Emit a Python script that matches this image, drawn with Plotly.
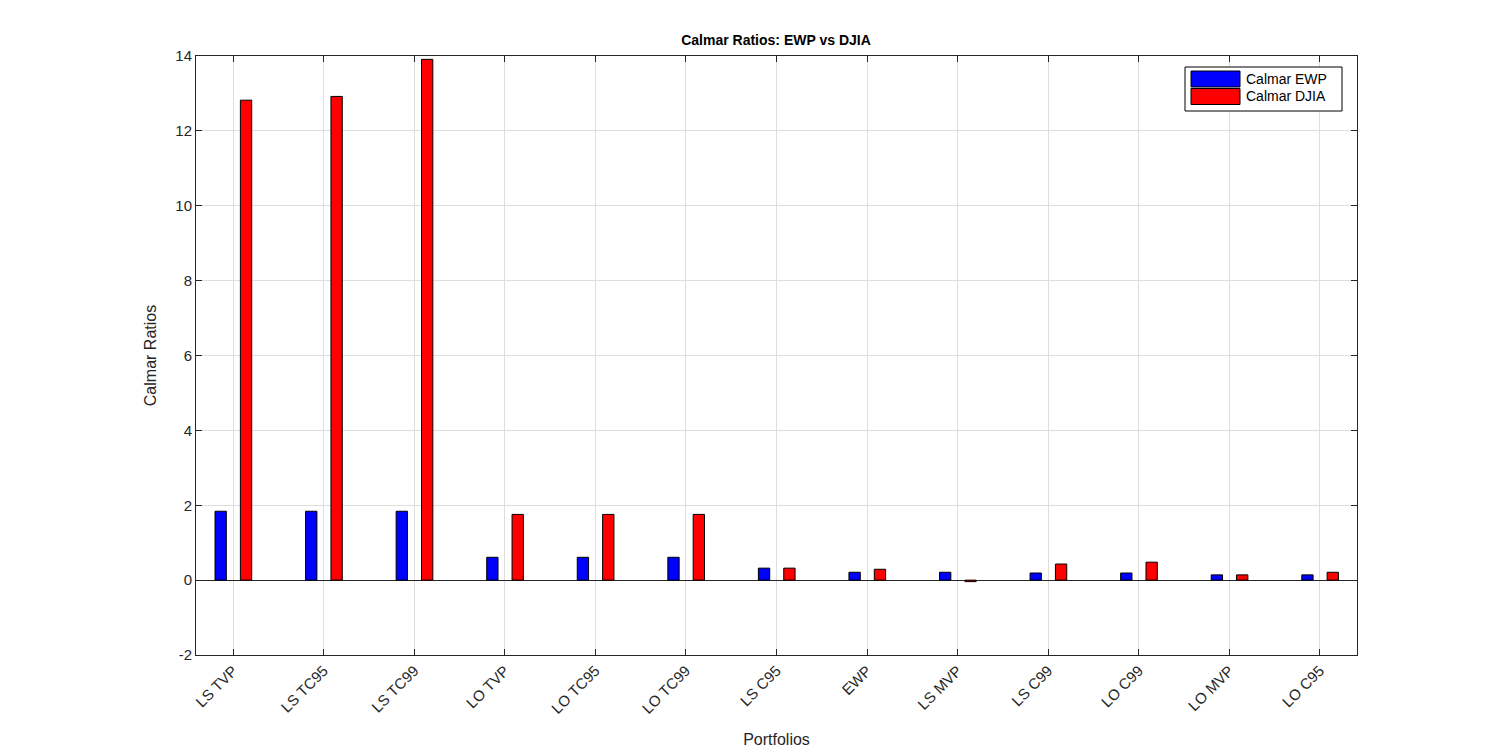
import plotly.graph_objects as go

categories = ["LS TVP", "LS TC95", "LS TC99", "LO TVP", "LO TC95", "LO TC99",
              "LS C95", "EWP", "LS MVP", "LS C99", "LO C99", "LO MVP", "LO C95"]
calmar_ewp = [1.84, 1.84, 1.84, 0.61, 0.61, 0.61, 0.32, 0.21, 0.21, 0.19, 0.19, 0.14, 0.14]
calmar_djia = [12.82, 12.92, 13.91, 1.755, 1.755, 1.755, 0.32, 0.29, -0.04, 0.43, 0.48, 0.14, 0.21]
series_names = ["Calmar EWP", "Calmar DJIA"]
series_colors = ["#0000FF", "#FF0000"]
yticks = [-2, 0, 2, 4, 6, 8, 10, 12, 14]

xpos = list(range(len(categories)))
font_family = "Liberation Sans, Arial, sans-serif"

# page body has an 8px margin; figure sized so it ends at the window edge
OFF = 8
W, H = 1500 - OFF, 750 - OFF
# Plot area in screen pixels: x 196..1357, y 56..655
L, R, T, B = 196, 1357, 56, 655

def px(x):
    return (x - L) / (R - L)

def py(y):
    return (B - y) / (B - T)

fig = go.Figure()
fig.add_trace(go.Bar(x=xpos, y=calmar_ewp, name=series_names[0], width=0.125, offset=-0.2,
                     marker=dict(color=series_colors[0], line=dict(color="black", width=1)),
                     showlegend=False))
fig.add_trace(go.Bar(x=xpos, y=calmar_djia, name=series_names[1], width=0.125, offset=0.08,
                     marker=dict(color=series_colors[1], line=dict(color="black", width=1)),
                     showlegend=False))

shapes = [dict(type="rect", xref="paper", yref="paper", x0=px(1185), x1=px(1342),
               y0=py(111), y1=py(67), line=dict(color="black", width=1), fillcolor="white",
               layer="above")]
annotations = []
for i, (nm, col) in enumerate(zip(series_names, series_colors)):
    top = 71 + i * 17.5
    shapes.append(dict(type="rect", xref="paper", yref="paper", x0=px(1191), x1=px(1240),
                       y0=py(top + 16), y1=py(top), line=dict(color="black", width=1),
                       fillcolor=col, layer="above"))
    annotations.append(dict(text=nm, xref="paper", yref="paper", x=px(1244), y=py(top + 8),
                            xanchor="left", yanchor="middle", showarrow=False,
                            font=dict(size=14, color="black", family=font_family)))

fig.update_layout(
    width=W, height=H,
    paper_bgcolor="white", plot_bgcolor="white",
    margin=dict(l=L - OFF, r=1500 - R, t=T - OFF, b=750 - B, autoexpand=False),
    font=dict(family=font_family, size=14, color="#262626"),
    title=dict(text="<b>Calmar Ratios: EWP vs DJIA</b>", x=(776 - OFF) / W, xanchor="center",
               y=1 - (40 - OFF) / H, yanchor="middle", font=dict(size=14, color="black")),
    barmode="overlay",
    showlegend=False,
    shapes=shapes,
    annotations=annotations,
)
fig.update_xaxes(
    range=[-0.41, 12.41], tickmode="array", tickvals=xpos, ticktext=categories,
    tickangle=-45, showgrid=True, gridcolor="#DEDEDE", gridwidth=1,
    showline=True, linecolor="#262626", linewidth=1, mirror="ticks",
    ticks="inside", ticklen=6, tickcolor="#262626", zeroline=False, automargin=False,
    tickfont=dict(size=15, color="#262626"),
    title=dict(text="Portfolios", font=dict(size=16, color="#262626"), standoff=18),
)
fig.update_yaxes(
    range=[-2, 14], tickmode="array", tickvals=yticks, ticktext=[str(v) for v in yticks],
    showgrid=True, gridcolor="#DEDEDE", gridwidth=1,
    showline=True, linecolor="#262626", linewidth=1, mirror="ticks",
    ticks="inside", ticklen=6, tickcolor="#262626", automargin=False,
    zeroline=True, zerolinecolor="#262626", zerolinewidth=1,
    tickfont=dict(size=15, color="#262626"),
    title=dict(text="Calmar Ratios", font=dict(size=16, color="#262626"), standoff=14),
)

fig.write_html("out.html")
